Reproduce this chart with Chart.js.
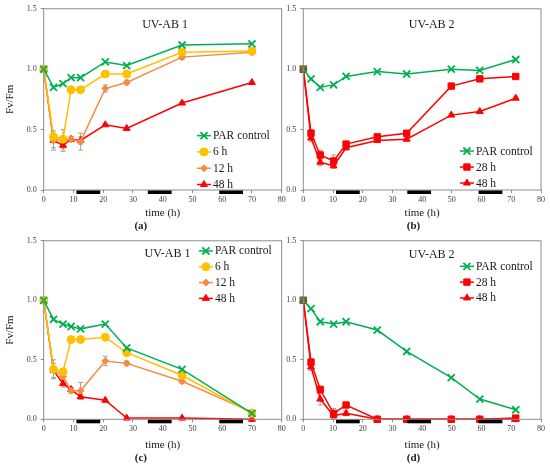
<!DOCTYPE html>
<html>
<head>
<meta charset="utf-8">
<script src="https://cdn.jsdelivr.net/npm/chart.js@4/dist/chart.umd.min.js"></script>
<style>
  body { margin: 0; background: #fff; }
  .panel { position: absolute; background: #fff; }
</style>
</head>
<body>
<div class="panel" style="left:0;top:0;width:290px;height:232px"><canvas id="chart-a"></canvas></div>
<div class="panel" style="left:0;top:232px;width:290px;height:232px"><canvas id="chart-c"></canvas></div>
<div class="panel" style="left:286px;top:0;width:264px;height:232px"><canvas id="chart-b"></canvas></div>
<div class="panel" style="left:286px;top:232px;width:264px;height:232px"><canvas id="chart-d"></canvas></div>
<script>
// sampling times (h)
const timesUV1 = [0, 3.3, 6.5, 9.2, 12.4, 20.7, 27.9, 46.5, 70];
const timesUV2 = [0, 2.6, 5.7, 10.2, 14.4, 24.9, 34.8, 49.8, 59.4, 71.5];

// (a) UV-AB 1
const parA = [1.0, 0.85, 0.88, 0.93, 0.93, 1.06, 1.03, 1.20, 1.21];
const uv6A = [1.0, 0.44, 0.42, 0.83, 0.83, 0.96, 0.96, 1.14, 1.15];
const uv12A = [1.0, 0.41, 0.42, 0.42, 0.40, 0.84, 0.89, 1.10, 1.14];
const uv48A = [1.0, 0.41, 0.37, 0.42, 0.41, 0.54, 0.51, 0.72, 0.89];
const err12A = [0, 0.08, 0.08, 0.02, 0.07, 0.03, 0.02, 0.02, 0.02];
const err48A = [0, 0.06, 0.05, 0.02, 0.03, 0.01, 0.01, 0.01, 0.01];

// (b) UV-AB 2
const parB = [1.0, 0.92, 0.85, 0.87, 0.94, 0.98, 0.96, 1.0, 0.99, 1.08];
const uv28B = [1.0, 0.47, 0.29, 0.24, 0.38, 0.44, 0.47, 0.86, 0.92, 0.94];
const uv48B = [1.0, 0.43, 0.23, 0.20, 0.35, 0.41, 0.42, 0.62, 0.65, 0.76];
const err28B = [0, 0.03, 0.04, 0.05, 0.02, 0.01, 0.01, 0.01, 0.01, 0.01];
const err48B = [0, 0.03, 0.03, 0.02, 0.02, 0.01, 0.01, 0.01, 0.01, 0.01];

// (c) UV-AB 1
const parC = [1.0, 0.84, 0.80, 0.78, 0.76, 0.80, 0.60, 0.42, 0.05];
const uv6C = [1.0, 0.42, 0.40, 0.67, 0.67, 0.69, 0.56, 0.37, 0.05];
const uv12C = [1.0, 0.42, 0.36, 0.24, 0.24, 0.49, 0.47, 0.32, 0.06];
const uv48C = [1.0, 0.41, 0.30, 0.25, 0.19, 0.16, 0.01, 0.01, 0.0];
const err12C = [0, 0.08, 0.03, 0.02, 0.07, 0.04, 0.02, 0.02, 0.01];
const err48C = [0, 0.06, 0.03, 0.02, 0.02, 0.01, 0, 0, 0];

// (d) UV-AB 2
const parD = [1.0, 0.93, 0.82, 0.80, 0.82, 0.75, 0.57, 0.35, 0.17, 0.08];
const uv28D = [1.0, 0.48, 0.25, 0.05, 0.12, 0, 0, 0, 0, 0.01];
const uv48D = [1.0, 0.44, 0.17, 0.03, 0.05, 0, 0, 0, 0, 0];
const err28D = [0, 0.03, 0.03, 0.04, 0.02, 0, 0, 0, 0, 0];
const err48D = [0, 0.03, 0.05, 0.03, 0.02, 0, 0, 0, 0, 0];

// dark periods drawn under the time axis
const darkStart = [11, 35, 59];
const darkEnd = [19, 43, 67];

const xTicks = [0, 10, 20, 30, 40, 50, 60, 70, 80];
const yTicks = [0, 0.5, 1.0, 1.5];

const GREEN = "#00b050", YELLOW = "#ffc000", ORANGE = "#f68b3f", RED = "#ff0000";
const FONT = "'Liberation Serif', 'DejaVu Serif', serif";
const AXIS = "#8c8c8c";

function series(label, times, values, color, style, radius, errors) {
  return {
    label,
    data: times.map((t, i) => ({ x: t, y: values[i] })),
    errors: errors || [],
    borderColor: color,
    backgroundColor: color,
    borderWidth: 1.5,
    pointStyle: style,
    pointRadius: radius,
    pointHoverRadius: radius,
    pointBorderWidth: style === "crossRot" ? 1.8 : 1,
    pointBackgroundColor: color,
    pointBorderColor: color,
    tension: 0,
    clip: false,
  };
}

const panelDecor = {
  id: "panelDecor",
  beforeDatasetsDraw(chart) {
    const { ctx } = chart;
    const ys = chart.scales.y;
    ctx.save();
    ctx.strokeStyle = "#a0a0a0";
    ctx.lineWidth = 1;
    chart.data.datasets.forEach((ds, i) => {
      const meta = chart.getDatasetMeta(i);
      ds.errors.forEach((e, j) => {
        if (!e) return;
        const px = meta.data[j].x;
        const v = ds.data[j].y;
        const top = ys.getPixelForValue(v + e);
        const bot = ys.getPixelForValue(Math.max(0, v - e));
        ctx.beginPath();
        ctx.moveTo(px, top); ctx.lineTo(px, bot);
        ctx.moveTo(px - 2.5, top); ctx.lineTo(px + 2.5, top);
        ctx.moveTo(px - 2.5, bot); ctx.lineTo(px + 2.5, bot);
        ctx.stroke();
      });
    });
    ctx.restore();
  },
  afterDraw(chart, args, opts) {
    const { ctx, chartArea: a } = chart;
    const xs = chart.scales.x;
    ctx.save();
    ctx.strokeStyle = AXIS;
    ctx.lineWidth = 1;
    ctx.strokeRect(a.left, a.top, a.width, a.height);

    ctx.fillStyle = "#000";
    darkStart.forEach((s, i) => {
      const x0 = xs.getPixelForValue(s), x1 = xs.getPixelForValue(darkEnd[i]);
      ctx.fillRect(x0, a.bottom + 0.5, x1 - x0, 3.5);
    });

    ctx.fillStyle = "#1a1a1a";
    ctx.font = "12px " + FONT;
    ctx.textAlign = "center";
    ctx.textBaseline = "middle";
    ctx.fillText(opts.title, a.left + a.width * opts.titleX, a.top + a.height * opts.titleY);

    ctx.font = "11.5px " + FONT;
    ctx.textAlign = "left";
    chart.data.datasets.forEach((ds, i) => {
      const lx = a.left + a.width * opts.legendX;
      const ly = a.top + a.height * opts.legendY + i * opts.legendRow;
      ctx.strokeStyle = ds.borderColor;
      ctx.lineWidth = ds.borderWidth;
      ctx.beginPath(); ctx.moveTo(lx, ly); ctx.lineTo(lx + 14, ly); ctx.stroke();
      ctx.fillStyle = ds.pointBackgroundColor;
      ctx.strokeStyle = ds.pointBorderColor;
      ctx.lineWidth = ds.pointBorderWidth;
      Chart.helpers.drawPoint(ctx, {
        pointStyle: ds.pointStyle, radius: ds.pointRadius, rotation: 0, borderWidth: ds.pointBorderWidth,
      }, lx + 7, ly);
      ctx.fillStyle = "#1a1a1a";
      ctx.fillText(ds.label, lx + 16, ly + 0.5);
    });
    ctx.restore();
  },
};

function makePanel(id, datasets, o) {
  return new Chart(document.getElementById(id), {
    type: "line",
    data: { datasets },
    options: {
      responsive: true,
      maintainAspectRatio: false,
      animation: false,
      layout: { padding: o.padding },
      plugins: {
        legend: { display: false },
        tooltip: { enabled: false },
        title: {
          display: true, position: "bottom", text: o.letter, color: "#1a1a1a",
          font: { family: FONT, size: 11, weight: "bold", lineHeight: 1 }, padding: 0,
        },
        panelDecor: o.decor,
      },
      scales: {
        x: {
          type: "linear", min: 0, max: 80,
          afterBuildTicks: (s) => { s.ticks = xTicks.map((v) => ({ value: v })); },
          ticks: { font: { family: FONT, size: 8 }, color: "#404040", maxRotation: 0, autoSkip: false, padding: 2 },
          grid: { drawOnChartArea: false, tickLength: 3, color: AXIS },
          border: { display: false },
          title: {
            display: true, text: "time (h)", color: "#1a1a1a",
            font: { family: FONT, size: 11 }, padding: { top: 0, bottom: 1.5 },
          },
          afterFit: (s) => { s.height = o.xHeight; },
        },
        y: {
          min: 0, max: 1.5,
          afterBuildTicks: (s) => { s.ticks = yTicks.map((v) => ({ value: v })); },
          ticks: { font: { family: FONT, size: 8 }, color: "#404040", padding: 4, callback: (v) => v.toFixed(1) },
          grid: { drawOnChartArea: false, tickLength: 3, color: AXIS },
          border: { display: false },
          title: {
            display: o.yTitle, text: "Fv/Fm", color: "#1a1a1a",
            font: { family: FONT, size: 11 }, padding: { top: 3.5, bottom: 0 },
          },
          afterFit: (s) => { s.width = o.yWidth; },
        },
      },
    },
    plugins: [panelDecor],
  });
}

makePanel("chart-a", [
  series("PAR control", timesUV1, parA, GREEN, "crossRot", 5),
  series("6 h", timesUV1, uv6A, YELLOW, "circle", 4),
  series("12 h", timesUV1, uv12A, ORANGE, "rectRot", 3.5, err12A),
  series("48 h", timesUV1, uv48A, RED, "triangle", 4, err48A),
], {
  letter: "(a)", padding: { left: 0, top: 7.3, right: 8.3, bottom: 0 },
  xHeight: 31, yWidth: 43.7, yTitle: true,
  decor: { title: "UV-AB 1", titleX: 0.51, titleY: 0.09, legendX: 0.644, legendY: 0.70, legendRow: 16.3 },
});

makePanel("chart-b", [
  series("PAR control", timesUV2, parB, GREEN, "crossRot", 5),
  series("28 h", timesUV2, uv28B, RED, "rect", 4.5, err28B),
  series("48 h", timesUV2, uv48B, RED, "triangle", 4, err48B),
], {
  letter: "(b)", padding: { left: 0, top: 7.3, right: 9, bottom: 0 },
  xHeight: 31, yWidth: 17.3, yTitle: false,
  decor: { title: "UV-AB 2", titleX: 0.54, titleY: 0.09, legendX: 0.659, legendY: 0.785, legendRow: 16 },
});

makePanel("chart-c", [
  series("PAR control", timesUV1, parC, GREEN, "crossRot", 5),
  series("6 h", timesUV1, uv6C, YELLOW, "circle", 4),
  series("12 h", timesUV1, uv12C, ORANGE, "rectRot", 3.5, err12C),
  series("48 h", timesUV1, uv48C, RED, "triangle", 4, err48C),
], {
  letter: "(c)", padding: { left: 0, top: 5.7, right: 8.3, bottom: 0 },
  xHeight: 33.7, yWidth: 43.7, yTitle: true,
  decor: { title: "UV-AB 1", titleX: 0.52, titleY: 0.073, legendX: 0.652, legendY: 0.057, legendRow: 15.8 },
});

makePanel("chart-d", [
  series("PAR control", timesUV2, parD, GREEN, "crossRot", 5),
  series("28 h", timesUV2, uv28D, RED, "rect", 4.5, err28D),
  series("48 h", timesUV2, uv48D, RED, "triangle", 4, err48D),
], {
  letter: "(d)", padding: { left: 0, top: 5.7, right: 9, bottom: 0 },
  xHeight: 33.7, yWidth: 17.3, yTitle: false,
  decor: { title: "UV-AB 2", titleX: 0.54, titleY: 0.079, legendX: 0.659, legendY: 0.143, legendRow: 15.8 },
});
</script>
</body>
</html>
